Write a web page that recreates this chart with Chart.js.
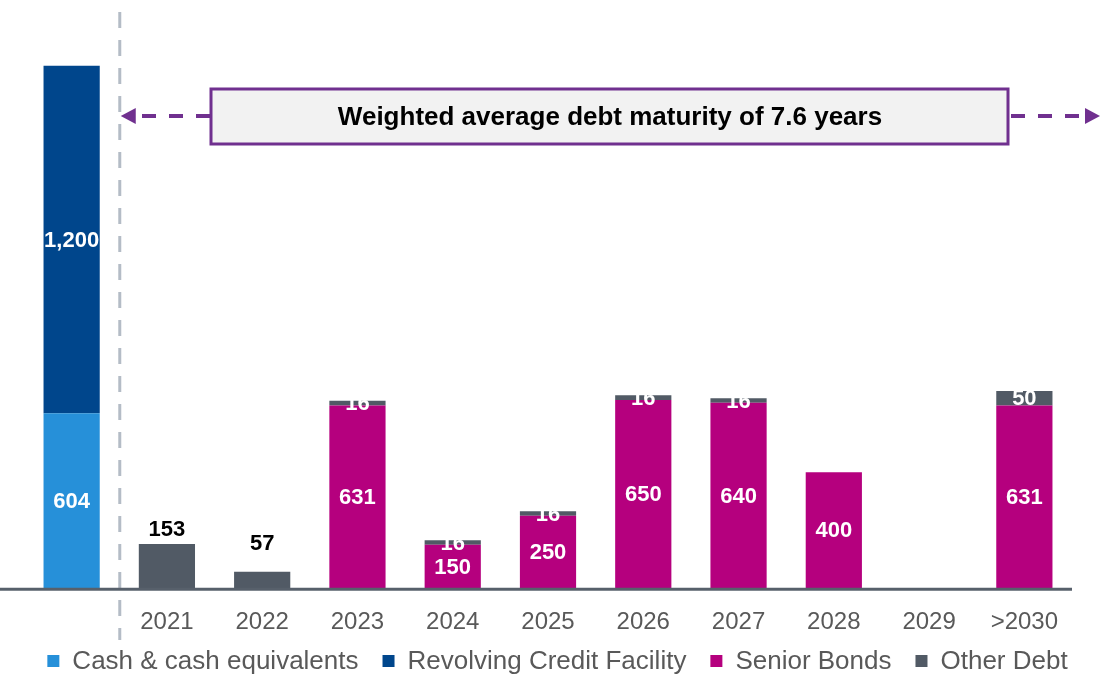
<!DOCTYPE html>
<html lang="en">
<head>
    <meta charset="UTF-8">
    <title>Debt maturity profile</title>
    <script src="https://cdn.jsdelivr.net/npm/chart.js"></script>
    <style>
        body { margin: 0; background: #fff; }
        #wrap { width: 1107px; height: 675px; position: relative; }
    </style>
</head>
<body>
    <div id="wrap"><canvas id="debtChart"></canvas></div>
    <script>
        // values in EUR m
        const categories = ['', '2021', '2022', '2023', '2024', '2025', '2026', '2027', '2028', '2029', '>2030'];
        const cash = [604, null, null, null, null, null, null, null, null, null, null];
        const rcf = [1200, null, null, null, null, null, null, null, null, null, null];
        const seniorBonds = [null, null, null, 631, 150, 250, 650, 640, 400, null, 631];
        const otherDebt = [null, 153, 57, 16, 16, 16, 16, 16, null, null, 50];
        const seriesNames = ['Cash & cash equivalents', 'Revolving Credit Facility', 'Senior Bonds', 'Other Debt'];
        const seriesColors = ['#2690D9', '#00468C', '#B5007E', '#515A65'];
        const boxText = 'Weighted average debt maturity of 7.6 years';

        const FONT = "'Liberation Sans', Arial, sans-serif";
        const PURPLE = '#70308F';

        const decorations = {
            id: 'decorations',
            beforeDatasetsDraw(chart) {
                const ctx = chart.ctx;
                const x = chart.scales.x;
                const sepX = (x.getPixelForValue(0) + x.getPixelForValue(1)) / 2 + 0.5;
                ctx.save();
                ctx.strokeStyle = '#B4BCC6';
                ctx.lineWidth = 3;
                ctx.setLineDash([16, 12]);
                ctx.beginPath();
                ctx.moveTo(sepX, 12);
                ctx.lineTo(sepX, 640);
                ctx.stroke();
                ctx.restore();
            },
            afterDatasetsDraw(chart) {
                const ctx = chart.ctx;
                const area = chart.chartArea;
                const x = chart.scales.x;
                const sepX = (x.getPixelForValue(0) + x.getPixelForValue(1)) / 2 + 0.5;

                // axis line
                ctx.save();
                ctx.strokeStyle = '#57606B';
                ctx.lineWidth = 3;
                ctx.beginPath();
                ctx.moveTo(0, area.bottom + 1);
                ctx.lineTo(area.right, area.bottom + 1);
                ctx.stroke();

                // value labels
                ctx.textAlign = 'center';
                ctx.textBaseline = 'middle';
                ctx.font = 'bold 22px ' + FONT;
                chart.data.datasets.forEach((ds, di) => {
                    const meta = chart.getDatasetMeta(di);
                    meta.data.forEach((bar, i) => {
                        const v = ds.data[i];
                        if (v == null) return;
                        const cy = (bar.y + bar.base) / 2;
                        const alone = di === 3 && seniorBonds[i] == null;
                        ctx.fillStyle = alone ? '#000' : '#fff';
                        ctx.fillText(v.toLocaleString('en-US'), bar.x, alone ? cy - 36 : cy + 1);
                    });
                });

                // maturity arrows and box
                const ay = 116;
                ctx.strokeStyle = PURPLE;
                ctx.fillStyle = PURPLE;
                ctx.lineWidth = 4;
                ctx.setLineDash([14, 13]);
                ctx.beginPath();
                ctx.moveTo(210, ay);
                ctx.lineTo(136, ay);
                ctx.moveTo(1011, ay);
                ctx.lineTo(1085, ay);
                ctx.stroke();
                ctx.setLineDash([]);
                ctx.beginPath();
                ctx.moveTo(sepX + 1, ay);
                ctx.lineTo(sepX + 16, ay - 8);
                ctx.lineTo(sepX + 16, ay + 8);
                ctx.closePath();
                ctx.fill();
                ctx.beginPath();
                ctx.moveTo(1100, ay);
                ctx.lineTo(1085, ay - 8);
                ctx.lineTo(1085, ay + 8);
                ctx.closePath();
                ctx.fill();

                ctx.fillStyle = '#F2F2F2';
                ctx.fillRect(211, 89, 797, 55);
                ctx.lineWidth = 3;
                ctx.strokeRect(211, 89, 797, 55);
                ctx.fillStyle = '#000';
                ctx.font = 'bold 26px ' + FONT;
                ctx.fillText(boxText, 610, 118);

                // legend
                ctx.font = '26px ' + FONT;
                ctx.textAlign = 'left';
                const widths = seriesNames.map(n => ctx.measureText(n).width);
                const total = widths.reduce((a, w) => a + 12 + 13 + w, 0) + 24 * (seriesNames.length - 1);
                let lx = (chart.width - total) / 2 + 4;
                const ly = 661;
                seriesNames.forEach((name, k) => {
                    ctx.fillStyle = seriesColors[k];
                    ctx.fillRect(lx, ly - 6, 12, 12);
                    ctx.fillStyle = '#595959';
                    ctx.fillText(name, lx + 25, ly + 1);
                    lx += 12 + 13 + widths[k] + 24;
                });
                ctx.restore();
            }
        };

        const ctx = document.getElementById('debtChart').getContext('2d');
        new Chart(ctx, {
            type: 'bar',
            data: {
                labels: categories,
                datasets: [cash, rcf, seniorBonds, otherDebt].map((d, k) => ({
                    label: seriesNames[k],
                    data: d,
                    backgroundColor: seriesColors[k],
                    borderWidth: 0,
                    categoryPercentage: 1,
                    barPercentage: 0.59
                }))
            },
            options: {
                responsive: true,
                maintainAspectRatio: false,
                animation: false,
                layout: { padding: { left: 24, right: 35, top: 9, bottom: 18 } },
                plugins: {
                    legend: { display: false },
                    tooltip: { enabled: false }
                },
                scales: {
                    x: {
                        stacked: true,
                        grid: { display: false, drawTicks: false },
                        border: { display: false },
                        ticks: {
                            color: '#595959',
                            font: { family: FONT, size: 24 },
                            padding: 20,
                            maxRotation: 0,
                            autoSkip: false
                        }
                    },
                    y: {
                        stacked: true,
                        display: false,
                        min: 0,
                        max: 2000
                    }
                }
            },
            plugins: [decorations]
        });
    </script>
</body>
</html>
